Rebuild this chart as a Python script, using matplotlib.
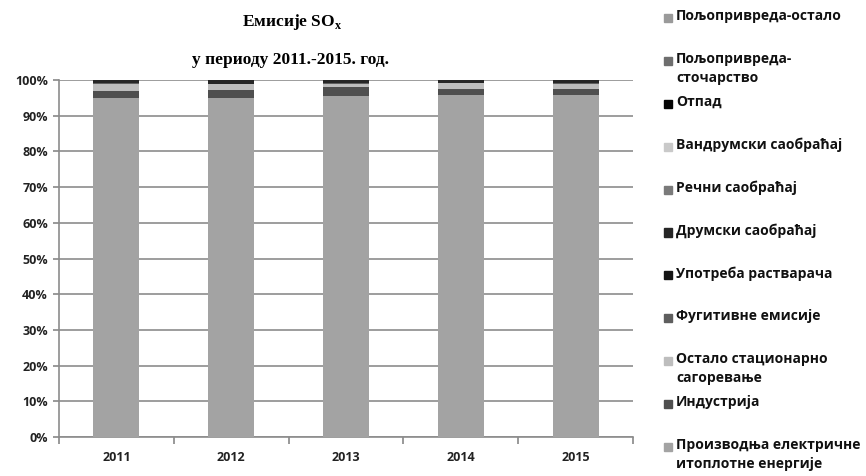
import matplotlib.pyplot as plt
from matplotlib.patches import Rectangle

years = ['2011', '2012', '2013', '2014', '2015']

# series from bottom to top of each stack, values in %
proizvodnja = [95.0, 95.0, 95.4, 95.8, 95.7]
industrija = [1.9, 2.1, 2.6, 1.7, 1.8]
ostalo_stac = [2.1, 1.8, 1.0, 1.6, 1.5]
fugitivne = [0.1, 0.1, 0.1, 0.1, 0.1]
rastvaraci = [0.0, 0.0, 0.0, 0.0, 0.0]
drumski = [0.8, 0.9, 0.8, 0.7, 0.8]
recni = [0.0, 0.0, 0.0, 0.0, 0.0]
vandrumski = [0.1, 0.1, 0.1, 0.1, 0.1]
otpad = [0.0, 0.0, 0.0, 0.0, 0.0]
pp_stocarstvo = [0.0, 0.0, 0.0, 0.0, 0.0]
pp_ostalo = [0.0, 0.0, 0.0, 0.0, 0.0]

series = [
    ('Производња електричне\nитоплотне енергије', proizvodnja, '#a3a3a3'),
    ('Индустрија', industrija, '#4f4f4f'),
    ('Остало стационарно\nсагоревање', ostalo_stac, '#bdbdbd'),
    ('Фугитивне емисије', fugitivne, '#5e5e5e'),
    ('Употреба растварача', rastvaraci, '#141414'),
    ('Друмски саобраћај', drumski, '#262626'),
    ('Речни саобраћај', recni, '#7a7a7a'),
    ('Вандрумски саобраћај', vandrumski, '#c9c9c9'),
    ('Отпад', otpad, '#050505'),
    ('Пољопривреда-\nсточарство', pp_stocarstvo, '#6e6e6e'),
    ('Пољопривреда-остало', pp_ostalo, '#9a9a9a'),
]

fig = plt.figure(figsize=(8.66, 4.76), dpi=100)
ax = fig.add_axes([59 / 866, 1 - 437 / 476, 574 / 866, 357 / 476])

x = list(range(len(years)))
bottom = [0.0] * len(years)
for name, vals, col in series:
    ax.bar(x, vals, width=0.4, bottom=bottom, color=col, zorder=3)
    bottom = [b + v for b, v in zip(bottom, vals)]

ax.set_xlim(-0.5, len(years) - 0.5)
ax.set_ylim(0, 100)
ax.set_yticks(range(0, 101, 10))
ax.set_yticklabels([f'{v}%' for v in range(0, 101, 10)])
ax.set_xticks(x)
ax.set_xticklabels(years)
ax.set_xticks([i - 0.5 for i in range(len(years) + 1)], minor=True)
ax.tick_params(axis='x', which='major', length=0, pad=10)
ax.tick_params(axis='x', which='minor', length=5, color='#888888', width=1.2)
ax.tick_params(axis='y', length=4, color='#888888', width=1.2, pad=4)
for lab in ax.get_xticklabels() + ax.get_yticklabels():
    lab.set_fontfamily('Open Sans')
    lab.set_fontweight('bold')
    lab.set_fontsize(9)
    lab.set_color('#222222')
ax.grid(axis='y', color='#8c8c8c', linewidth=1.2, zorder=0)
for s in ['top', 'right']:
    ax.spines[s].set_visible(False)
for s in ['left', 'bottom']:
    ax.spines[s].set_color('#8c8c8c')
    ax.spines[s].set_linewidth(1.2)

fig.text(292 / 866, 1 - 22 / 476, 'Емисије SO$_\\mathregular{x}$', ha='center', va='center',
         family='Liberation Serif', fontweight='bold', fontsize=12.5)
fig.text(291 / 866, 1 - 60 / 476, 'у периоду 2011.-2015. год.', ha='center', va='center',
         family='Liberation Serif', fontweight='bold', fontsize=12.5)

# legend, top entry first as in the original
y0 = 18
step = 42.9
for i, (name, vals, col) in enumerate(reversed(series)):
    yy = y0 + i * step
    fig.patches.append(Rectangle((664 / 866, 1 - (yy + 4) / 476), 8 / 866, 8 / 476,
                                 transform=fig.transFigure, color=col, figure=fig))
    fig.text(676 / 866, 1 - (yy - 9) / 476, name, ha='left', va='top', family='Open Sans',
             fontweight='bold', fontsize=10, color='#111111', linespacing=1.45)

fig.savefig('out.png', dpi=100)
